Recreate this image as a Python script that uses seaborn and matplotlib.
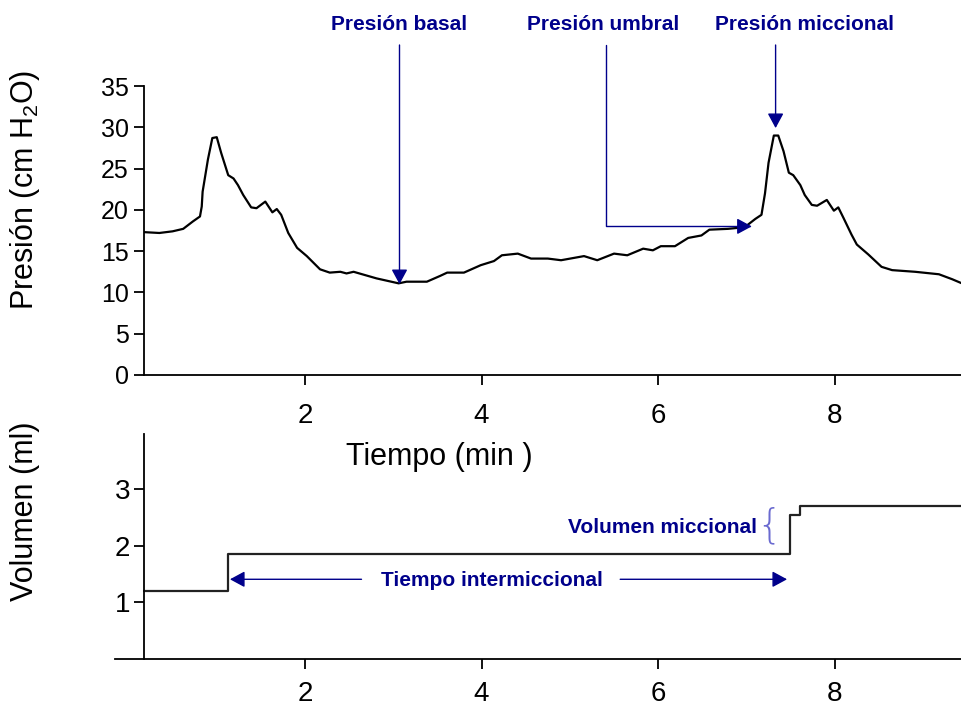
import numpy as np
import pandas as pd
import matplotlib
matplotlib.use("Agg")
import matplotlib.pyplot as plt
import matplotlib.transforms as mtrans
import seaborn as sns

# ---------------- data ----------------
time_min = [0.18, 0.35, 0.50, 0.62, 0.73, 0.81, 0.83, 0.84, 0.90, 0.95, 1.00, 1.05,
            1.13, 1.19, 1.24, 1.30, 1.39, 1.45, 1.55, 1.63, 1.68, 1.73, 1.81, 1.91,
            2.02, 2.17, 2.28, 2.40, 2.47, 2.55, 2.81, 3.06, 3.15, 3.38, 3.53, 3.61,
            3.80, 3.99, 4.14, 4.23, 4.41, 4.56, 4.75, 4.90, 5.16, 5.31, 5.50, 5.65,
            5.83, 5.94, 6.03, 6.19, 6.34, 6.49, 6.58, 6.79, 6.98, 7.10, 7.17, 7.21,
            7.25, 7.31, 7.36, 7.42, 7.48, 7.53, 7.61, 7.66, 7.74, 7.80, 7.91, 7.99,
            8.04, 8.10, 8.19, 8.25, 8.38, 8.53, 8.65, 8.91, 9.18, 9.33, 9.44]
pressure = [17.3, 17.2, 17.4, 17.7, 18.6, 19.2, 20.4, 22.2, 26.1, 28.7, 28.8, 26.9,
            24.2, 23.8, 23.0, 21.8, 20.3, 20.2, 21.0, 19.7, 20.1, 19.4, 17.2, 15.4,
            14.4, 12.8, 12.4, 12.5, 12.3, 12.5, 11.7, 11.1, 11.3, 11.3, 12.0, 12.4,
            12.4, 13.3, 13.8, 14.5, 14.7, 14.1, 14.1, 13.9, 14.4, 13.9, 14.7, 14.5,
            15.3, 15.1, 15.6, 15.6, 16.6, 16.9, 17.6, 17.7, 17.9, 18.9, 19.4, 22.0,
            25.7, 29.0, 29.0, 27.1, 24.5, 24.2, 23.0, 21.8, 20.6, 20.5, 21.2, 19.9,
            20.3, 19.0, 17.0, 15.8, 14.6, 13.1, 12.7, 12.5, 12.2, 11.6, 11.1]

vol_time = [0.176, 1.13, 7.49, 7.61, 9.43]
volume = [1.2, 1.85, 2.55, 2.7, 2.7]

p_ticks = [0, 5, 10, 15, 20, 25, 30, 35]
v_ticks = [1, 2, 3]
t_ticks = [2, 4, 6, 8]

# ---------------- style ----------------
sns.set_style("ticks")
plt.rcParams['font.family'] = ['Liberation Sans', 'DejaVu Sans']
plt.rcParams['mathtext.fontset'] = 'custom'
plt.rcParams['mathtext.rm'] = 'Liberation Sans'
plt.rcParams['mathtext.it'] = 'Liberation Sans'
plt.rcParams['text.color'] = 'black'
plt.rcParams['axes.labelcolor'] = 'black'
plt.rcParams['xtick.color'] = 'black'
plt.rcParams['ytick.color'] = 'black'
NAVY = '#00008B'

W, H = 961, 709
fig = plt.figure(figsize=(W / 100, H / 100), dpi=100)

def fx(px):
    return px / W

def fy(py):
    return 1 - py / H

ax1 = fig.add_axes([fx(144), fy(375), fx(961 - 144), (375 - 86) / H])
ax2 = fig.add_axes([fx(115), fy(659), fx(961 - 115), (659 - 434) / H])

df_p = pd.DataFrame({"t": time_min, "p": pressure})
sns.lineplot(data=df_p, x="t", y="p", ax=ax1, color='black', lw=1.6,
             estimator=None, sort=False)

df_v = pd.DataFrame({"t": vol_time, "v": volume})
sns.lineplot(data=df_v, x="t", y="v", ax=ax2, color='#222222', lw=1.6,
             estimator=None, sort=False, drawstyle='steps-post')

for ax in (ax1, ax2):
    for s in ('top', 'right'):
        ax.spines[s].set_visible(False)
    for s in ('left', 'bottom'):
        ax.spines[s].set_linewidth(1.3)
        ax.spines[s].set_color('black')
    ax.set_xlabel('')
    ax.set_ylabel('')
    ax.set_xticks(t_ticks)
    ax.tick_params(axis='both', direction='out', length=7, width=1.3,
                   color='black', labelcolor='black')

ax1.set_xlim(0.176, 9.43)
ax1.set_ylim(0, 35)
ax1.set_yticks(p_ticks)
ax1.tick_params(axis='y', labelsize=18, pad=4)
ax1.tick_params(axis='x', labelsize=20, pad=13)

ax2.set_xlim(-0.152, 9.43)
ax2.set_ylim(0, 3.98)
ax2.set_yticks(v_ticks)
ax2.spines['left'].set_position(('data', 0.176))
ax2.tick_params(axis='y', labelsize=20, pad=3)
ax2.tick_params(axis='x', labelsize=20, pad=9)

# axis titles
fig.text(fx(25), fy(190), 'Presión (cm H$_\\mathrm{2}$O)', rotation=90,
         ha='center', va='center', fontsize=22)
fig.text(fx(25), fy(511), 'Volumen (ml)', rotation=90,
         ha='center', va='center', fontsize=22)
fig.text(fx(439), fy(457), 'Tiempo (min )', ha='center', va='center', fontsize=22)

# annotations top
ytxt = fy(25)
ystart = fy(45)
head = '-|>,head_length=0.5,head_width=0.27'
blend = mtrans.blended_transform_factory(ax1.transData, fig.transFigure)
for lab, xt in (('Presión basal', 3.07), ('Presión umbral', 5.38), ('Presión miccional', 7.66)):
    ax1.text(xt, ytxt, lab, transform=blend, ha='center', va='center',
             fontsize=15, fontweight='bold', color=NAVY)

ax1.annotate('', xy=(3.07, 11.0), xycoords='data',
             xytext=(3.07, ystart), textcoords=('data', 'figure fraction'),
             arrowprops=dict(arrowstyle=head, color=NAVY, lw=1.0, mutation_scale=18,
                             shrinkA=0, shrinkB=0), annotation_clip=False)
ax1.annotate('', xy=(7.06, 18.0), xycoords='data',
             xytext=(5.41, ystart), textcoords=('data', 'figure fraction'),
             arrowprops=dict(arrowstyle=head, color=NAVY, lw=1.0, mutation_scale=18,
                             shrinkA=0, shrinkB=0,
                             connectionstyle='angle,angleA=90,angleB=0,rad=0'),
             annotation_clip=False)
ax1.annotate('', xy=(7.33, 29.9), xycoords='data',
             xytext=(7.33, ystart), textcoords=('data', 'figure fraction'),
             arrowprops=dict(arrowstyle=head, color=NAVY, lw=1.0, mutation_scale=18,
                             shrinkA=0, shrinkB=0), annotation_clip=False)

# annotations bottom
ax2.annotate('', xy=(1.15, 1.41), xytext=(2.64, 1.41),
             arrowprops=dict(arrowstyle=head, color=NAVY, lw=1.0, mutation_scale=18,
                             shrinkA=0, shrinkB=0))
ax2.annotate('', xy=(7.46, 1.41), xytext=(5.57, 1.41),
             arrowprops=dict(arrowstyle=head, color=NAVY, lw=1.0, mutation_scale=18,
                             shrinkA=0, shrinkB=0))
ax2.text(4.12, 1.38, 'Tiempo intermiccional', ha='center', va='center',
         fontsize=15, fontweight='bold', color=NAVY)
ax2.text(7.12, 2.33, 'Volumen miccional', ha='right', va='center',
         fontsize=15, fontweight='bold', color=NAVY)
ax2.text(7.25, 2.36, '{', ha='center', va='center', fontsize=29,
         color='#6a6ad0', fontweight='light', family='DejaVu Sans')

fig.savefig('out.png', dpi=100)
